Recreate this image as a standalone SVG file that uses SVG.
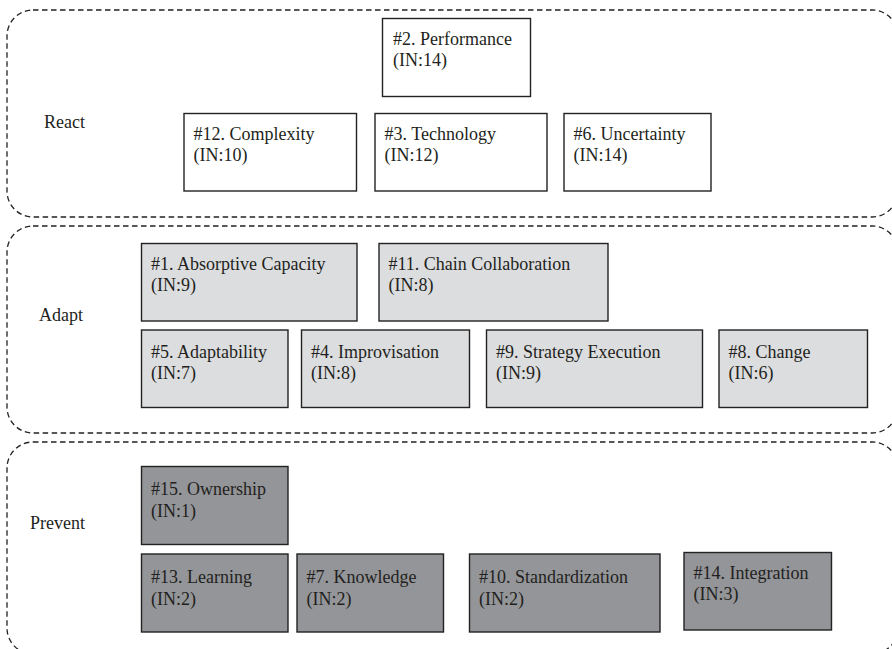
<svg xmlns="http://www.w3.org/2000/svg" width="892" height="649" viewBox="0 0 892 649" font-family="'Liberation Serif', 'Times New Roman', serif">
<style>
.zone{fill:none;stroke:#222;stroke-width:1.3;stroke-dasharray:5.5 3.5}
.box{stroke:#222;stroke-width:1.4}
.r{fill:#fff}
.a{fill:#dcdddf}
.p{fill:#939598}
text{font-family:'Liberation Serif','Times New Roman',serif;font-size:18px;fill:#231f20}
</style>
<g id="zones">
<rect class="zone" x="7" y="10" width="891" height="207" rx="26"/>
<rect class="zone" x="7" y="226" width="891" height="207" rx="26"/>
<rect class="zone" x="7" y="442" width="891" height="212" rx="26"/>
<text x="44" y="128">React</text>
<text x="39" y="321">Adapt</text>
<text x="30" y="529">Prevent</text>
</g>
<g id="connectors"></g>
<g id="n2"><rect class="box r" x="382.5" y="18.5" width="148" height="78"/><text x="393" y="45">#2. Performance</text><text x="393" y="66">(IN:14)</text></g>
<g id="n12"><rect class="box r" x="184" y="113.5" width="172.5" height="77.5"/><text x="193.5" y="140">#12. Complexity</text><text x="193.5" y="161">(IN:10)</text></g>
<g id="n3"><rect class="box r" x="375" y="113.5" width="172" height="77.5"/><text x="384.5" y="140">#3. Technology</text><text x="384.5" y="161">(IN:12)</text></g>
<g id="n6"><rect class="box r" x="564" y="113.5" width="147" height="77.5"/><text x="573.5" y="140">#6. Uncertainty</text><text x="573.5" y="161">(IN:14)</text></g>
<g id="n1"><rect class="box a" x="141.5" y="243.5" width="215.5" height="77.5"/><text x="151" y="270">#1. Absorptive Capacity</text><text x="151" y="291">(IN:9)</text></g>
<g id="n11"><rect class="box a" x="379" y="243.5" width="229" height="77.5"/><text x="388.5" y="270">#11. Chain Collaboration</text><text x="388.5" y="291">(IN:8)</text></g>
<g id="n5"><rect class="box a" x="141.5" y="330" width="146.5" height="77.5"/><text x="151" y="357.5">#5. Adaptability</text><text x="151" y="378.5">(IN:7)</text></g>
<g id="n4"><rect class="box a" x="301.5" y="330" width="168" height="77.5"/><text x="311" y="357.5">#4. Improvisation</text><text x="311" y="378.5">(IN:8)</text></g>
<g id="n9"><rect class="box a" x="486.5" y="330" width="216" height="77.5"/><text x="496" y="357.5">#9. Strategy Execution</text><text x="496" y="378.5">(IN:9)</text></g>
<g id="n8"><rect class="box a" x="719" y="330" width="148.5" height="77.5"/><text x="728.5" y="357.5">#8. Change</text><text x="728.5" y="378.5">(IN:6)</text></g>
<g id="n15"><rect class="box p" x="141.5" y="466.5" width="146.5" height="78"/><text x="151" y="495">#15. Ownership</text><text x="151" y="517">(IN:1)</text></g>
<g id="n13"><rect class="box p" x="141.5" y="554" width="146.5" height="78"/><text x="151" y="582.5">#13. Learning</text><text x="151" y="604.5">(IN:2)</text></g>
<g id="n7"><rect class="box p" x="297" y="554" width="146.5" height="78"/><text x="306.5" y="582.5">#7. Knowledge</text><text x="306.5" y="604.5">(IN:2)</text></g>
<g id="n10"><rect class="box p" x="469.5" y="554" width="190.5" height="78"/><text x="479" y="582.5">#10. Standardization</text><text x="479" y="604.5">(IN:2)</text></g>
<g id="n14"><rect class="box p" x="684" y="552.5" width="147.5" height="77.5"/><text x="693.5" y="578.5">#14. Integration</text><text x="693.5" y="600">(IN:3)</text></g>
</svg>
